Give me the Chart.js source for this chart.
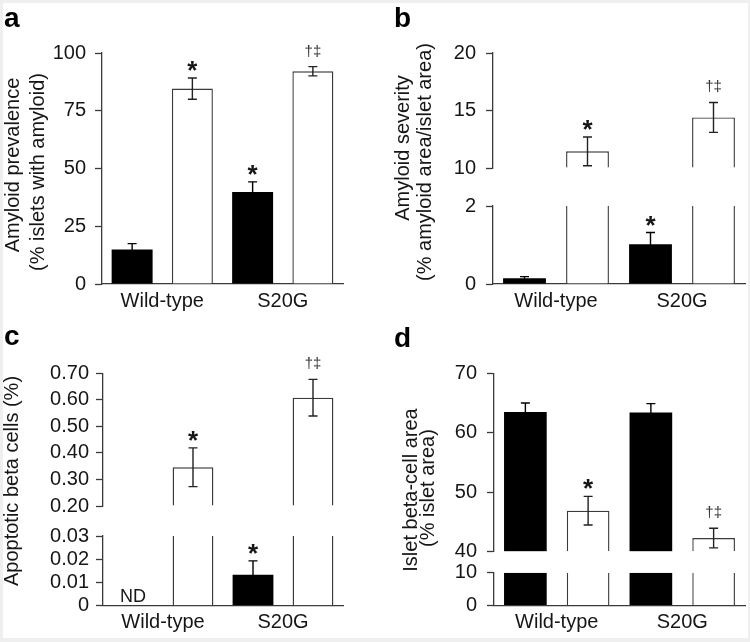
<!DOCTYPE html>
<html>
<head>
<meta charset="utf-8">
<script src="https://cdn.jsdelivr.net/npm/chart.js@4.4.1/dist/chart.umd.min.js"></script>
<style>
html, body { margin: 0; padding: 0; background: #efefef; }
#page { position: relative; width: 750px; height: 642px; overflow: hidden; background: #efefef; }
#sheet { position: absolute; left: 3px; top: 3px; width: 745px; height: 635px; background: #ffffff; }
canvas { position: absolute; }
</style>
</head>
<body>
<div id="page">
  <div id="sheet"></div>
  <canvas id="pa" width="375" height="320" style="left:0px;top:0px"></canvas>
  <canvas id="pb" width="375" height="320" style="left:375px;top:0px"></canvas>
  <canvas id="pc" width="375" height="322" style="left:0px;top:320px"></canvas>
  <canvas id="pd" width="375" height="322" style="left:375px;top:320px"></canvas>
</div>
<script>
// ---------------- data ----------------
const groups = ['Wild-type', 'S20G'];
const seriesNames = ['Black bars', 'White bars'];

// a: Amyloid prevalence (% islets with amyloid)
const prevalenceBlack = [14.9, 39.8];
const prevalenceBlackSem = [2.6, 4.4];
const prevalenceWhite = [84.6, 92.1];
const prevalenceWhiteSem = [4.6, 2.0];
const prevalenceBlackMarks = ['', '*'];
const prevalenceWhiteMarks = ['*', '†‡'];
const prevalenceTicks = [0, 25, 50, 75, 100];
const prevalenceTickLabels = ['0', '25', '50', '75', '100'];

// b: Amyloid severity (% amyloid area/islet area)
const severityBlack = [0.15, 1.02];
const severityBlackSem = [0.04, 0.30];
const severityWhite = [11.45, 14.4];
const severityWhiteSem = [1.25, 1.3];
const severityBlackMarks = ['', '*'];
const severityWhiteMarks = ['*', '†‡'];
const severityTicksHigh = [10, 15, 20];
const severityTickLabelsHigh = ['10', '15', '20'];
const severityTicksLow = [0, 2];
const severityTickLabelsLow = ['0', '2'];

// c: Apoptotic beta cells (%)
const apoptosisBlack = [null, 0.0133];
const apoptosisBlackSem = [null, 0.006];
const apoptosisWhite = [0.346, 0.608];
const apoptosisWhiteSem = [0.073, 0.069];
const apoptosisBlackMarks = ['', '*'];
const apoptosisWhiteMarks = ['*', '†‡'];
const apoptosisBlackNotes = ['ND', ''];
const apoptosisTicksHigh = [0.2, 0.3, 0.4, 0.5, 0.6, 0.7];
const apoptosisTickLabelsHigh = ['0.20', '0.30', '0.40', '0.50', '0.60', '0.70'];
const apoptosisTicksLow = [0, 0.01, 0.02, 0.03];
const apoptosisTickLabelsLow = ['0', '0.01', '0.02', '0.03'];

// d: Islet beta-cell area (% islet area)
const betaAreaBlack = [63.5, 63.4];
const betaAreaBlackSem = [1.5, 1.5];
const betaAreaWhite = [46.9, 42.3];
const betaAreaWhiteSem = [2.4, 1.65];
const betaAreaBlackMarks = ['', ''];
const betaAreaWhiteMarks = ['*', '†‡'];
const betaAreaTicksHigh = [40, 50, 60, 70];
const betaAreaTickLabelsHigh = ['40', '50', '60', '70'];
const betaAreaTicksLow = [0, 10];
const betaAreaTickLabelsLow = ['0', '10'];

// ---------------- styling / layout ----------------
const FONT = "'Liberation Sans', Arial, Helvetica, sans-serif";
const INK = '#161616';
const AXIS = '#3a3a3a';
const BW = 1.4;
const TEXT_SIZE = 20;

const panels = [
  {
    canvas: 'pa', letter: 'a', letterPos: [4, 27], W: 375, H: 320, tickPad: 9,
    area: { left: 102, right: 343, top: 53, bottom: 284 },
    titles: [{ text: 'Amyloid prevalence', x: 13.5, y: 165 }, { text: '(% islets with amyloid)', x: 38, y: 172 }],
    segments: [{ min: 0, max: 100, ticks: prevalenceTicks, labels: prevalenceTickLabels, height: 231 }],
    gaps: [],
    black: prevalenceBlack, blackSem: prevalenceBlackSem, blackMarks: prevalenceBlackMarks,
    white: prevalenceWhite, whiteSem: prevalenceWhiteSem, whiteMarks: prevalenceWhiteMarks
  },
  {
    canvas: 'pb', letter: 'b', letterPos: [19, 27], W: 375, H: 320, tickPad: 10,
    area: { left: 118, right: 370, top: 53, bottom: 284 },
    titles: [{ text: 'Amyloid severity', x: 28.5, y: 148 }, { text: '(% amyloid area/islet area)', x: 50, y: 162 }],
    segments: [
      { min: 10, max: 20, ticks: severityTicksHigh, labels: severityTickLabelsHigh, height: 115 },
      { min: 0, max: 2, ticks: severityTicksLow, labels: severityTickLabelsLow, height: 78 }
    ],
    gaps: [38],
    black: severityBlack, blackSem: severityBlackSem, blackMarks: severityBlackMarks,
    white: severityWhite, whiteSem: severityWhiteSem, whiteMarks: severityWhiteMarks
  },
  {
    canvas: 'pc', letter: 'c', letterPos: [4, 25], W: 375, H: 322, tickPad: 7,
    area: { left: 103, right: 343, top: 53.3, bottom: 285.7 },
    titles: [{ text: 'Apoptotic beta cells (%)', x: 12.5, y: 161 }],
    segments: [
      { min: 0.2, max: 0.7, ticks: apoptosisTicksHigh, labels: apoptosisTickLabelsHigh, height: 132.7 },
      { min: 0, max: 0.03, ticks: apoptosisTicksLow, labels: apoptosisTickLabelsLow, height: 69.7 }
    ],
    gaps: [30],
    black: apoptosisBlack, blackSem: apoptosisBlackSem, blackMarks: apoptosisBlackMarks, blackNotes: apoptosisBlackNotes,
    white: apoptosisWhite, whiteSem: apoptosisWhiteSem, whiteMarks: apoptosisWhiteMarks
  },
  {
    canvas: 'pd', letter: 'd', letterPos: [19, 27], W: 375, H: 322, tickPad: 10,
    area: { left: 119, right: 370, top: 53.3, bottom: 285.5 },
    titles: [{ text: 'Islet beta-cell area', x: 36.5, y: 170 }, { text: '(% islet area)', x: 53, y: 168 }],
    segments: [
      { min: 40, max: 70, ticks: betaAreaTicksHigh, labels: betaAreaTickLabelsHigh, height: 178.4 },
      { min: 0, max: 10, ticks: betaAreaTicksLow, labels: betaAreaTickLabelsLow, height: 32.8 }
    ],
    gaps: [21],
    black: betaAreaBlack, blackSem: betaAreaBlackSem, blackMarks: betaAreaBlackMarks,
    white: betaAreaWhite, whiteSem: betaAreaWhiteSem, whiteMarks: betaAreaWhiteMarks
  }
];

function rotText(ctx, text, x, y, font) {
  ctx.save();
  ctx.translate(x, y);
  ctx.rotate(-Math.PI / 2);
  ctx.font = font;
  ctx.fillStyle = INK;
  ctx.textAlign = 'center';
  ctx.textBaseline = 'middle';
  ctx.fillText(text, 0, 0);
  ctx.restore();
}

function makeDecor(p, ids) {
  return {
    id: 'decor_' + p.letter,
    afterDatasetsDraw(chart) {
      const ctx = chart.ctx;
      const scales = ids.map(id => chart.scales[id]);
      const locate = v => scales.find(sc => v >= sc.min - 1e-9 && v <= sc.max + 1e-9);
      const lowIdx = (p.segments.length - 1) * 2;
      const series = [
        [p.black, p.blackSem, p.blackMarks, p.blackNotes, 0],
        [p.white, p.whiteSem, p.whiteMarks, null, 1]
      ];
      series.forEach(([vals, sems, marks, notes, j]) => {
        const meta = chart.getDatasetMeta(lowIdx + j);
        vals.forEach((m, i) => {
          const x = meta.data[i].x;
          if (m == null) {
            if (notes && notes[i]) {
              const low = scales[scales.length - 1];
              ctx.save();
              ctx.font = '18px ' + FONT;
              ctx.fillStyle = INK;
              ctx.textAlign = 'center';
              ctx.textBaseline = 'alphabetic';
              ctx.fillText(notes[i], x, low.getPixelForValue(0) - 4);
              ctx.restore();
            }
            return;
          }
          const sc = locate(m) || locate(m + sems[i]);
          const yHi = sc.getPixelForValue(Math.min(m + sems[i], sc.max));
          const yLo = sc.getPixelForValue(Math.max(m - sems[i], sc.min));
          ctx.save();
          ctx.strokeStyle = j === 0 ? '#000' : '#222';
          ctx.lineWidth = 1.4;
          ctx.beginPath();
          ctx.moveTo(x, yLo); ctx.lineTo(x, yHi);
          ctx.moveTo(x - 4.5, yHi); ctx.lineTo(x + 4.5, yHi);
          ctx.moveTo(x - 4.5, yLo); ctx.lineTo(x + 4.5, yLo);
          ctx.stroke();
          const mark = marks[i];
          if (mark) {
            ctx.fillStyle = INK;
            ctx.textAlign = 'center';
            ctx.textBaseline = 'alphabetic';
            if (mark === '*') {
              ctx.font = 'bold 26px ' + FONT;
              ctx.fillText(mark, x, yHi + 1);
            } else {
              ctx.font = '15px ' + FONT;
              ctx.fillStyle = '#333';
              ctx.fillText(mark, x, yHi - 11);
            }
          }
          ctx.restore();
        });
      });
    },
    afterDraw(chart) {
      const ctx = chart.ctx;
      ctx.save();
      ctx.font = 'bold 28px ' + FONT;
      ctx.fillStyle = '#000';
      ctx.textAlign = 'left';
      ctx.textBaseline = 'alphabetic';
      ctx.fillText(p.letter, p.letterPos[0], p.letterPos[1]);
      ctx.restore();
      p.titles.forEach(t => rotText(ctx, t.text, t.x, t.y, TEXT_SIZE + 'px ' + FONT));
    }
  };
}

function buildPanel(p) {
  const n = p.segments.length;
  const scales = {};
  const ids = [];
  let weight = 2 * n + 2;
  p.segments.forEach((s, k) => {
    const id = 'y' + k;
    ids.push(id);
    const sc = {
      type: 'linear', position: 'left', min: s.min, max: s.max, stacked: false,
      weight: weight--,
      afterBuildTicks: a => { a.ticks = s.ticks.map(v => ({ value: v })); },
      afterFit: a => { a.width = p.area.left; },
      ticks: {
        callback: (v, idx) => s.labels[idx],
        autoSkip: false,
        font: { family: FONT, size: TEXT_SIZE }, color: INK, padding: p.tickPad
      },
      grid: { drawOnChartArea: false, drawTicks: true, tickLength: 7, tickColor: AXIS, tickWidth: 1.3 },
      border: { display: true, color: AXIS, width: 1.3 }
    };
    if (n > 1) { sc.stack = 'broken'; sc.stackWeight = s.height; }
    scales[id] = sc;
    if (k < n - 1) {
      scales['gap' + k] = {
        type: 'linear', position: 'left', stack: 'broken', stackWeight: p.gaps[k], weight: weight--,
        display: true, min: 0, max: 1,
        ticks: { display: false }, grid: { display: false, drawTicks: false }, border: { display: false },
        afterFit: a => { a.width = p.area.left; }
      };
    }
  });
  scales.x = {
    type: 'category', offset: true,
    grid: { display: false, drawTicks: false },
    border: { display: true, color: AXIS, width: 1.3 },
    ticks: { font: { family: FONT, size: TEXT_SIZE }, color: INK, padding: 5, maxRotation: 0, autoSkip: false },
    afterFit: a => { a.height = p.H - p.area.bottom; }
  };

  const defs = [
    { name: seriesNames[0], values: p.black, fill: '#000000', outline: false, stack: 'black' },
    { name: seriesNames[1], values: p.white, fill: '#ffffff', outline: true, stack: 'white' }
  ];
  const datasets = [];
  p.segments.forEach((s, k) => {
    defs.forEach(d => {
      const clipped = d.values.map(v => v != null && v > s.max);
      datasets.push({
        label: d.name,
        stack: d.stack,
        yAxisID: ids[k],
        base: s.min,
        data: d.values.map(v => (v == null || v <= s.min) ? null : Math.min(v, s.max)),
        backgroundColor: d.fill,
        borderColor: AXIS,
        borderSkipped: false,
        borderWidth: d.outline
          ? (c => ({ top: clipped[c.dataIndex] ? 0 : BW, left: BW, right: BW, bottom: 0 }))
          : 0,
        categoryPercentage: 1.0,
        barPercentage: 0.68
      });
    });
  });

  new Chart(document.getElementById(p.canvas), {
    type: 'bar',
    data: { labels: groups, datasets },
    options: {
      responsive: false,
      animation: false,
      devicePixelRatio: 1,
      layout: { padding: { left: 0, right: p.W - p.area.right, top: p.area.top, bottom: 0 } },
      plugins: { legend: { display: false }, tooltip: { enabled: false }, title: { display: false } },
      scales
    },
    plugins: [makeDecor(p, ids)]
  });
}

panels.forEach(buildPanel);
</script>
</body>
</html>
